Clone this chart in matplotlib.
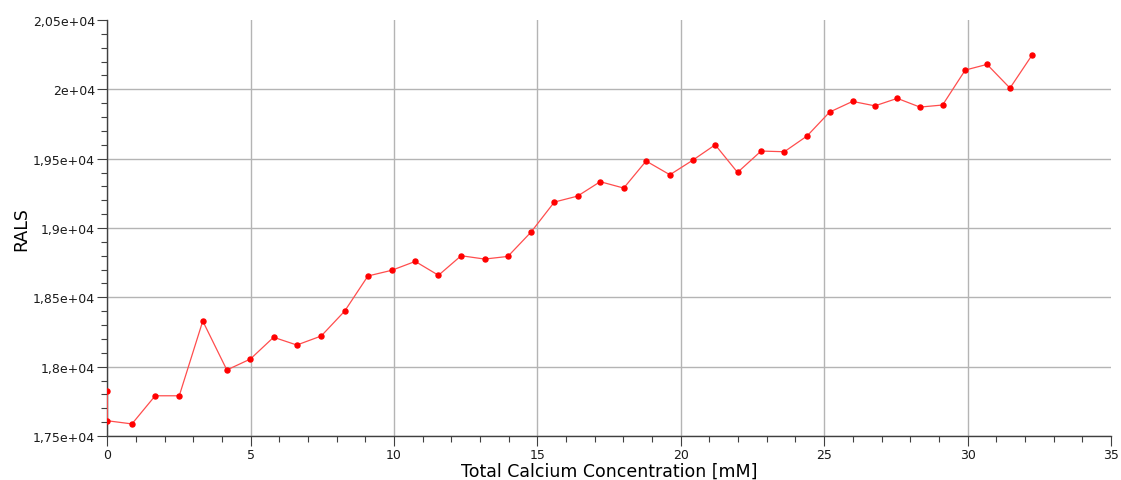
import matplotlib
matplotlib.use("Agg")
import matplotlib.pyplot as plt
from matplotlib.ticker import MultipleLocator, FixedLocator, FixedFormatter


# total calcium concentration [mM]
conc = [0.0, 0.0, 0.86, 1.67, 2.51, 3.33, 4.17, 4.99, 5.80, 6.61, 7.46, 8.28, 9.09,
        9.92, 10.74, 11.55, 12.34, 13.16, 13.97, 14.78, 15.59, 16.40, 17.19, 18.01,
        18.79, 19.62, 20.41, 21.20, 21.98, 22.80, 23.61, 24.40, 25.19, 25.99, 26.77,
        27.55, 28.34, 29.13, 29.92, 30.68, 31.48, 32.25]
rals = [17822, 17610, 17587, 17790, 17790, 18329, 17976, 18055, 18212, 18156, 18221,
        18401, 18654, 18695, 18759, 18659, 18800, 18776, 18795, 18971, 19187, 19230,
        19334, 19288, 19483, 19384, 19488, 19600, 19401, 19555, 19550, 19663, 19836,
        19913, 19881, 19935, 19872, 19887, 20139, 20180, 20009, 20247]

y_ticks = [17500, 18000, 18500, 19000, 19500, 20000, 20500]
y_tick_labels = ["1,75e+04", "1,8e+04", "1,85e+04", "1,9e+04", "1,95e+04", "2e+04", "2,05e+04"]
x_ticks = [0, 5, 10, 15, 20, 25, 30, 35]


def main():
    fig = plt.figure(figsize=(11.21, 4.81), dpi=100)
    ax = fig.add_axes([0.0957, 0.0915, 0.8953, 0.8648])

    ax.plot(conc, rals, color="#ff4d4d", lw=0.9, zorder=3)
    ax.plot(conc, rals, ls="none", marker="o", ms=3.6, color="#ff0000", mec="#ff0000", zorder=4)

    ax.set_xlim(0, 35)
    ax.set_ylim(17500, 20500)
    ax.xaxis.set_major_locator(FixedLocator(x_ticks))
    ax.xaxis.set_minor_locator(MultipleLocator(1))
    ax.yaxis.set_major_locator(FixedLocator(y_ticks))
    ax.yaxis.set_major_formatter(FixedFormatter(y_tick_labels))
    ax.yaxis.set_minor_locator(MultipleLocator(100))

    ax.grid(True, which="major", color="#b4b4b4", lw=1.0)
    ax.set_axisbelow(True)
    # no grid line along the open top and right edges
    ax.xaxis.get_gridlines()[-1].set_visible(False)
    ax.yaxis.get_gridlines()[-1].set_visible(False)
    for side in ["top", "right"]:
        ax.spines[side].set_visible(False)
    for side in ["left", "bottom"]:
        ax.spines[side].set_color("#404040")
        ax.spines[side].set_linewidth(1.0)

    ax.tick_params(which="major", direction="out", length=7, width=0.8, color="#404040",
                   labelsize=9, pad=2, labelcolor="#1a1a1a")
    ax.tick_params(which="minor", direction="out", length=4, width=0.8, color="#404040")

    ax.set_xlabel("Total Calcium Concentration [mM]", fontsize=12.5, labelpad=0)
    ax.set_ylabel("RALS", fontsize=12.5, labelpad=2)

    fig.savefig("out.png", dpi=100)
    plt.close(fig)


if __name__ == "__main__":
    main()
